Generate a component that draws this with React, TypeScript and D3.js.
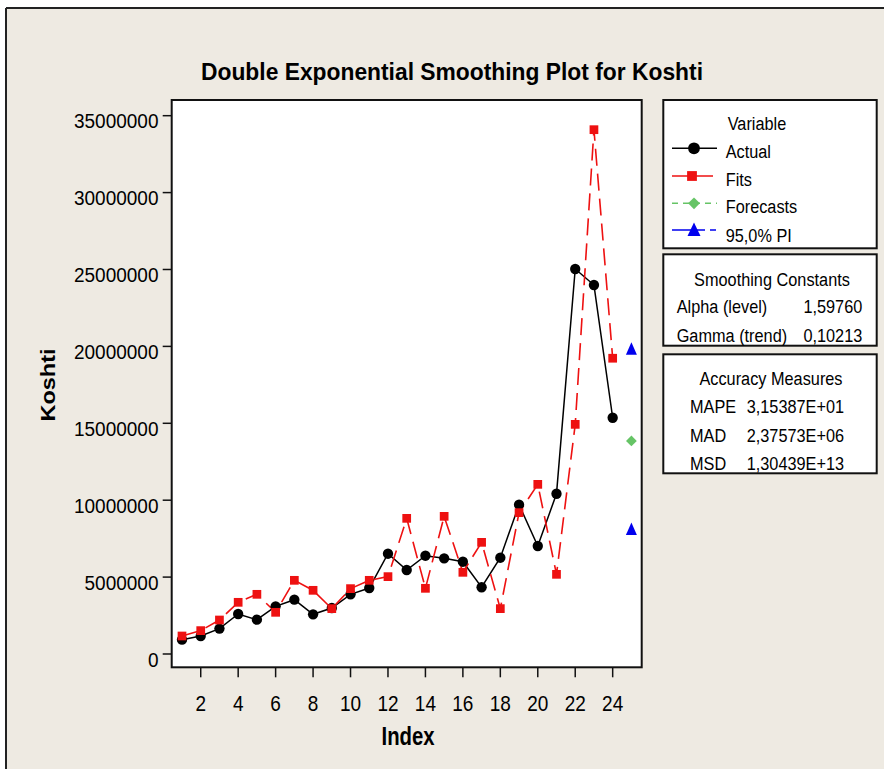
import React from "react";
import * as d3 from "d3";

// values (millions)
const index = [1, 2, 3, 4, 5, 6, 7, 8, 9, 10, 11, 12, 13, 14, 15, 16, 17, 18, 19, 20, 21, 22, 23, 24];
const actual = [0.93, 1.17, 1.65, 2.6, 2.23, 3.1, 3.53, 2.58, 2.99, 3.88, 4.29, 6.52, 5.46, 6.39, 6.22, 6.0, 4.34, 6.26, 9.71, 7.02, 10.42, 25.03, 23.99, 15.36];
const fits = [1.17, 1.52, 2.21, 3.36, 3.88, 2.71, 4.79, 4.14, 2.95, 4.25, 4.79, 5.03, 8.82, 4.27, 8.95, 5.31, 7.26, 2.95, 9.19, 11.03, 5.18, 14.93, 34.09, 19.23];
const forecastIndex = 25;
const forecast = 13.85;
const piLower = 8.1;
const piUpper = 19.81;

const yTicks = [0, 5000000, 10000000, 15000000, 20000000, 25000000, 30000000, 35000000];
const xTicks = [2, 4, 6, 8, 10, 12, 14, 16, 18, 20, 22, 24];

const legendItems = ["Actual", "Fits", "Forecasts", "95,0% PI"];
const smoothingLabels = ["Alpha (level)", "Gamma (trend)"];
const smoothingValues = ["1,59760", "0,10213"];
const accuracyLabels = ["MAPE", "MAD", "MSD"];
const accuracyValues = ["3,15387E+01", "2,37573E+06", "1,30439E+13"];

const W = 884;
const H = 769;
const frame = { left: 171.7, right: 641.7, top: 100, bottom: 667.3 };
const font = "'Liberation Sans', Arial, sans-serif";
const RED = "#ee1111";
const GREEN = "#66c466";
const BLUE = "#0000ee";

const x = d3.scaleLinear().domain([0.45, 25.55]).range([frame.left, frame.right]);
const y = d3.scaleLinear().domain([-865000, 36020000]).range([frame.bottom, frame.top]);

const M = 1000000;
const line = d3
  .line<number>()
  .x((d, i) => x(index[i]))
  .y(d => y(d * M));

const circle = d3.symbol().type(d3.symbolCircle).size(84)()!;
const square = d3.symbol().type(d3.symbolSquare).size(76)()!;
const diamond = d3.symbol().type(d3.symbolSquare).size(58)()!;
const bigCircle = d3.symbol().type(d3.symbolCircle).size(110)()!;
const bigSquare = d3.symbol().type(d3.symbolSquare).size(96)()!;
const bigDiamond = d3.symbol().type(d3.symbolSquare).size(70)()!;
const triangle = "M0,-7L5.5,5.5L-5.5,5.5Z";
const bigTriangle = "M0,-7.5L6.5,6L-6.5,6Z";

// text stretched a little vertically, like the Minitab export
function T(props: any) {
  const { x: tx, y: ty, sy = 1.12, children, ...rest } = props;
  return (
    <text x={tx} y={ty} transform={`translate(0,${ty}) scale(1,${sy}) translate(0,${-ty})`} {...rest}>
      {children}
    </text>
  );
}

export default function App() {
  const legX = 663.3;
  const legW = 213.4;
  const rowY = [158.3, 185.7, 213.3, 241.7];
  const symY = [148.3, 176, 203.3, 230];
  const fs = 16.3;

  return (
    <div style={{ position: "absolute", left: 0, top: 0 }}>
      <svg width={W} height={H} style={{ display: "block" }} fontFamily={font}>
        <rect x={0} y={0} width={W} height={H} fill="#fff" />
        <rect x={6} y={8} width={W - 6} height={H - 8} fill="#eeeae2" />
        <line x1={6} x2={W} y1={8} y2={8} stroke="#222" strokeWidth={2} />
        <line x1={6} x2={6} y1={8} y2={H} stroke="#222" strokeWidth={2} />

        <T x={452} y={80} sy={1.1} textAnchor="middle" fontSize={22.5} fontWeight="bold" textLength={502} lengthAdjust="spacingAndGlyphs">
          Double Exponential Smoothing Plot for Koshti
        </T>

        {/* plot area */}
        <rect x={frame.left} y={frame.top} width={frame.right - frame.left} height={frame.bottom - frame.top} fill="#fff" stroke="#111" strokeWidth={2} />

        {yTicks.map(t => (
          <g key={t}>
            <line x1={frame.left - 9} x2={frame.left} y1={y(t)} y2={y(t)} stroke="#111" strokeWidth={1.5} />
            <T x={158.5} y={y(t) + 12.8} sy={1.08} textAnchor="end" fontSize={19}>
              {String(t)}
            </T>
          </g>
        ))}
        {xTicks.map(t => (
          <g key={t}>
            <line x1={x(t)} x2={x(t)} y1={frame.bottom} y2={frame.bottom + 10} stroke="#111" strokeWidth={1.5} />
            <T x={x(t)} y={710.7} sy={1.15} textAnchor="middle" fontSize={19}>
              {t}
            </T>
          </g>
        ))}
        <T x={408} y={745} sy={1.15} textAnchor="middle" fontSize={22} fontWeight="bold" textLength={53} lengthAdjust="spacingAndGlyphs">
          Index
        </T>
        <text transform="translate(55,385) rotate(-90)" textAnchor="middle" fontSize={21} fontWeight="bold" textLength={73} lengthAdjust="spacingAndGlyphs">
          Koshti
        </text>

        {/* series */}
        <path d={line(actual) || ""} fill="none" stroke="#000" strokeWidth={1.5} />
        <path d={line(fits) || ""} fill="none" stroke={RED} strokeWidth={1.6} strokeDasharray="17 8" />
        {actual.map((v, i) => (
          <path key={"a" + i} d={circle} transform={`translate(${x(index[i])},${y(v * M)})`} fill="#000" />
        ))}
        {fits.map((v, i) => (
          <path key={"f" + i} d={square} transform={`translate(${x(index[i])},${y(v * M)})`} fill={RED} />
        ))}
        <path d={diamond} transform={`translate(${x(forecastIndex)},${y(forecast * M)}) rotate(45)`} fill={GREEN} />
        {[piLower, piUpper].map(v => (
          <path key={v} d={triangle} transform={`translate(${x(forecastIndex)},${y(v * M)})`} fill={BLUE} />
        ))}

        {/* legend */}
        <rect x={legX} y={100} width={legW} height={148.3} fill="#fff" stroke="#111" strokeWidth={2} />
        <T x={757} y={130} textAnchor="middle" fontSize={fs}>Variable</T>
        {legendItems.map((name, i) => (
          <T key={name} x={725.7} y={rowY[i]} fontSize={fs}>{name}</T>
        ))}
        <line x1={672} x2={717} y1={symY[0]} y2={symY[0]} stroke="#000" strokeWidth={1.5} />
        <path d={bigCircle} transform={`translate(694,${symY[0]})`} fill="#000" />
        <line x1={672} x2={713} y1={symY[1]} y2={symY[1]} stroke={RED} strokeWidth={1.5} />
        <path d={bigSquare} transform={`translate(692,${symY[1]})`} fill={RED} />
        <line x1={672} x2={717} y1={symY[2]} y2={symY[2]} stroke={GREEN} strokeWidth={1.5} strokeDasharray="6 5" />
        <path d={bigDiamond} transform={`translate(694,${symY[2]}) rotate(45)`} fill={GREEN} />
        <line x1={672} x2={716} y1={symY[3]} y2={symY[3]} stroke={BLUE} strokeWidth={1.5} strokeDasharray="33 5 6 10" />
        <path d={bigTriangle} transform={`translate(694,${symY[3]})`} fill={BLUE} />

        <rect x={legX} y={254.3} width={legW} height={91.4} fill="#fff" stroke="#111" strokeWidth={2} />
        <T x={772} y={285.7} textAnchor="middle" fontSize={fs}>Smoothing Constants</T>
        {smoothingLabels.map((s, i) => (
          <g key={s}>
            <T x={676.7} y={313.3 + i * 28.4} fontSize={fs}>{s}</T>
            <T x={862.3} y={313.3 + i * 28.4} fontSize={fs} textAnchor="end">{smoothingValues[i]}</T>
          </g>
        ))}

        <rect x={legX} y={354.3} width={legW} height={119} fill="#fff" stroke="#111" strokeWidth={2} />
        <T x={771} y={385} textAnchor="middle" fontSize={fs}>Accuracy Measures</T>
        {accuracyLabels.map((s, i) => (
          <g key={s}>
            <T x={690} y={413.3 + i * 28.35} fontSize={fs}>{s}</T>
            <T x={746.7} y={413.3 + i * 28.35} fontSize={fs}>{accuracyValues[i]}</T>
          </g>
        ))}
      </svg>
    </div>
  );
}
